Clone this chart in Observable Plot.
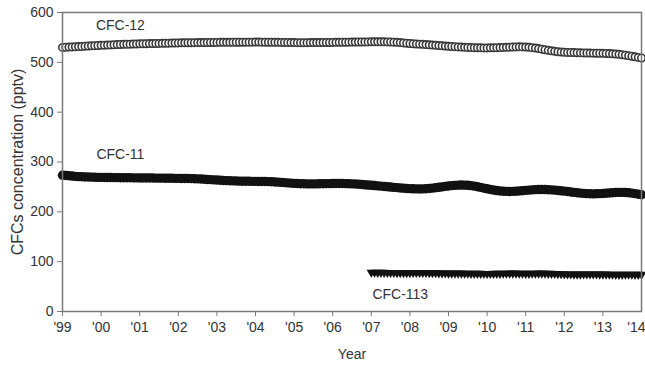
<!DOCTYPE html>
<html><head><meta charset="utf-8">
<script src="https://cdn.jsdelivr.net/npm/d3@7"></script>
<script src="https://cdn.jsdelivr.net/npm/@observablehq/plot@0.6"></script>
<style>body{margin:0;background:#fff} svg{display:block}</style>
</head><body><div id="chart"></div>
<script>
// Monthly readings, starting January of each start year
const cfc12Start = 1999;
const cfc12 = [
530.0,530.3,530.6,531.0,531.3,531.7,532.0,532.4,532.8,533.2,533.5,533.8,
534.1,534.4,534.7,535.0,535.3,535.6,535.9,536.1,536.3,536.5,536.7,536.9,
537.1,537.3,537.4,537.6,537.7,537.9,538.0,538.2,538.4,538.5,538.7,538.8,
539.0,539.1,539.2,539.3,539.4,539.5,539.6,539.6,539.7,539.8,539.9,539.9,
540.0,540.1,540.1,540.2,540.2,540.3,540.3,540.4,540.4,540.5,540.5,540.5,
540.6,540.6,540.5,540.5,540.4,540.3,540.2,540.1,540.0,539.9,539.8,539.7,
539.6,539.5,539.5,539.5,539.5,539.6,539.6,539.7,539.7,539.8,539.9,539.9,
540.0,540.1,540.2,540.3,540.4,540.5,540.6,540.7,540.8,540.9,541.0,541.0,
541.1,541.2,541.2,541.2,541.1,541.0,540.8,540.5,540.1,539.6,539.0,538.4,
537.8,537.3,536.9,536.5,536.1,535.7,535.2,534.7,534.2,533.6,533.1,532.6,
532.2,531.8,531.4,531.0,530.6,530.2,529.9,529.6,529.4,529.2,529.1,529.0,
529.0,529.1,529.2,529.4,529.6,529.9,530.2,530.5,530.8,531.0,531.1,531.0,
530.7,530.2,529.5,528.6,527.6,526.5,525.3,524.1,523.0,522.0,521.2,520.6,
520.2,519.9,519.7,519.5,519.3,519.1,518.9,518.7,518.5,518.4,518.3,518.2,
518.0,517.8,517.5,517.1,516.6,516.0,515.3,514.4,513.4,512.3,511.1,509.9,
508.8
];
const cfc11Start = 1999;
const cfc11 = [
273.5,273.0,272.4,271.8,271.2,270.7,270.3,270.0,269.8,269.6,269.4,269.2,
269.1,269.0,268.9,268.8,268.7,268.6,268.5,268.5,268.4,268.3,268.2,268.1,
268.0,267.9,267.9,267.8,267.8,267.7,267.6,267.6,267.5,267.4,267.3,267.2,
267.1,267.0,266.9,266.8,266.6,266.4,266.1,265.8,265.4,265.0,264.6,264.2,
263.8,263.4,263.0,262.7,262.4,262.1,261.9,261.7,261.5,261.4,261.3,261.2,
261.1,261.0,260.9,260.8,260.6,260.3,260.0,259.6,259.1,258.6,258.1,257.6,
257.2,256.8,256.5,256.3,256.2,256.1,256.1,256.2,256.3,256.5,256.6,256.7,
256.8,256.9,256.9,256.8,256.7,256.5,256.2,255.8,255.3,254.8,254.2,253.7,
253.2,252.7,252.1,251.5,250.9,250.3,249.7,249.1,248.5,247.9,247.4,246.9,
246.5,246.2,246.0,245.9,246.0,246.3,246.8,247.5,248.3,249.2,250.1,251.0,
251.8,252.5,253.1,253.5,253.7,253.6,253.2,252.5,251.5,250.3,249.0,247.6,
246.2,244.9,243.7,242.7,241.9,241.3,241.0,240.9,241.0,241.3,241.8,242.4,
243.0,243.6,244.1,244.5,244.7,244.8,244.7,244.4,244.0,243.5,242.9,242.2,
241.5,240.7,239.9,239.1,238.3,237.6,237.0,236.5,236.2,236.1,236.2,236.5,
236.9,237.4,237.9,238.4,238.8,239.0,239.0,238.8,238.3,237.5,236.5,235.3,
234.2
];
const cfc113Start = 2007;
const cfc113 = [
78.5,78.4,78.3,78.2,78.1,78.0,77.9,77.9,77.8,77.8,77.8,77.8,
77.8,77.9,77.9,78.0,78.0,77.9,77.8,77.6,77.4,77.2,77.0,76.9,
76.8,76.7,76.7,76.6,76.6,76.5,76.4,76.3,76.2,76.1,76.1,76.0,
76.0,76.0,76.1,76.2,76.3,76.4,76.5,76.6,76.6,76.6,76.5,76.4,
76.3,76.3,76.4,76.5,76.6,76.6,76.5,76.3,76.1,75.9,75.6,75.4,
75.2,75.0,74.9,74.8,74.8,74.8,74.9,74.9,75.0,75.0,74.9,74.8,
74.7,74.6,74.5,74.4,74.3,74.3,74.3,74.4,74.4,74.4,74.3,74.2,
74.1
];

const yearTicks = [1999,2000,2001,2002,2003,2004,2005,2006,2007,2008,2009,2010,2011,2012,2013,2014];
const yearTickLabels = ["'99","'00","'01","'02","'03","'04","'05","'06","'07","'08","'09","'10","'11","'12","'13","'14"];
const valueTicks = [0,100,200,300,400,500,600];

const seriesNames = ["CFC-12","CFC-11","CFC-113"];
const labelYears = [2000.5, 2000.5, 2007.75];
const labelValues = [574, 315, 34];

const xTitle = "Year";
const yTitle = "CFCs concentration (pptv)";

// build tables
const toRows = (start, arr) => arr.map((v, i) => ({year: start + i / 12, value: v}));
const rows12 = toRows(cfc12Start, cfc12);
const rows11 = toRows(cfc11Start, cfc11);
const rows113 = toRows(cfc113Start, cfc113);
const labels = seriesNames.map((n, i) => ({name: n, year: labelYears[i], value: labelValues[i]}));
const tickLabelMap = new Map(yearTicks.map((t, i) => [t, yearTickLabels[i]]));
const lastTick = yearTicks[yearTicks.length - 1];
const innerTicks = yearTicks.slice(0, -1);

const triangleDown = {
  draw(context, size) {
    const y = -Math.sqrt(size / (Math.sqrt(3) * 3));
    context.moveTo(0, -2 * y);
    context.lineTo(-Math.sqrt(3) * y, y);
    context.lineTo(Math.sqrt(3) * y, y);
    context.closePath();
  }
};

const chart = Plot.plot({
  width: 645,
  height: 374,
  marginLeft: 62,
  marginRight: 4,
  marginTop: 12,
  marginBottom: 63,
  style: {fontFamily: "'Liberation Sans', Arial, sans-serif", fontSize: "14px", color: "#333", background: "#fff"},
  x: {domain: [1999, 2014]},
  y: {domain: [0, 600]},
  marks: [
    Plot.dot(rows12, {x: "year", y: "value", r: 3.7, fill: "white", stroke: "#383838", strokeWidth: 1.6}),
    Plot.dot(rows11, {x: "year", y: "value", r: 4.7, fill: "#111", stroke: "none"}),
    Plot.dot(rows113, {x: "year", y: "value", r: 3.5, symbol: triangleDown, fill: "#111", stroke: "none"}),
    Plot.frame({stroke: "#7a7a7a", strokeWidth: 1.5}),
    Plot.axisX(innerTicks, {tickFormat: d => tickLabelMap.get(d), tickSize: 5, tickPadding: 6, stroke: "#7a7a7a", fill: "#333", label: null, fontSize: 14}),
    Plot.axisX([lastTick], {tickFormat: d => tickLabelMap.get(d), tickSize: 5, tickPadding: 6, stroke: "#7a7a7a", fill: "#333", label: null, fontSize: 14, textAnchor: "end", dx: 4}),
    Plot.axisY(valueTicks, {tickSize: 5, tickPadding: 4, stroke: "#7a7a7a", fill: "#333", label: null, fontSize: 14}),
    Plot.text(labels, {x: "year", y: "value", text: "name", fill: "#333", fontSize: 14}),
    Plot.text([xTitle], {frameAnchor: "bottom", dy: 47, fill: "#333", fontSize: 14}),
    Plot.text([yTitle], {frameAnchor: "left", dx: -45, rotate: -90, textAnchor: "middle", fill: "#333", fontSize: 16})
  ]
});
document.getElementById("chart").appendChild(chart);
</script>
</body></html>
